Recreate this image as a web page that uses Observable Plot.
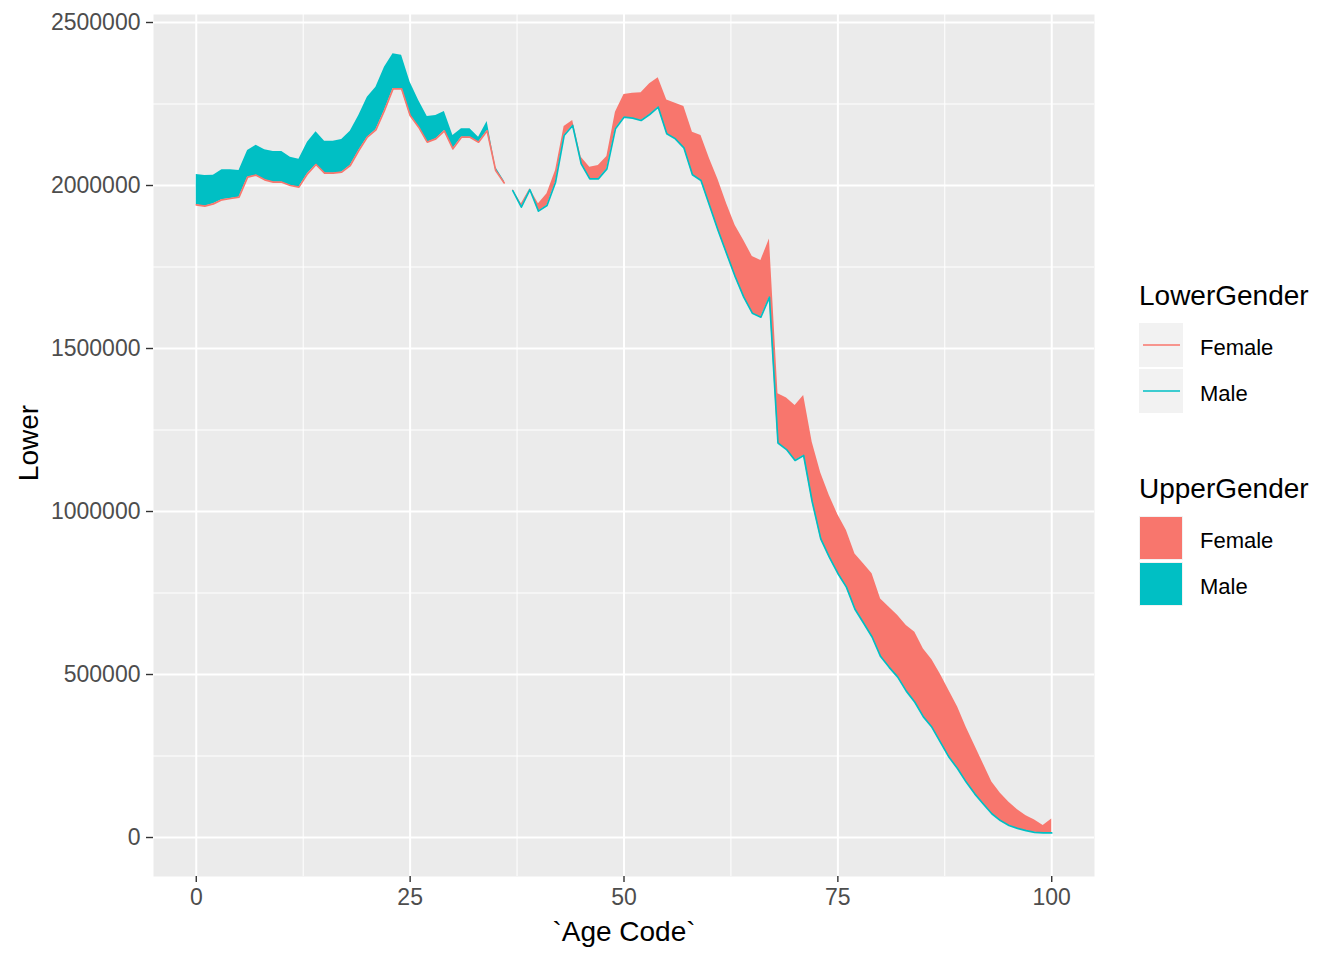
<!DOCTYPE html>
<html>
<head>
<meta charset="utf-8">
<script src="https://cdn.jsdelivr.net/npm/d3@7"></script>
<script src="https://cdn.jsdelivr.net/npm/@observablehq/plot@0.6"></script>
<style>
  body { margin: 0; background: #fff; }
  #wrap { position: relative; width: 1344px; height: 960px; background: #fff; font-family: "Liberation Sans", Arial, sans-serif; }
  #wrap svg { position: absolute; left: 0; top: 0; }
</style>
</head>
<body>
<div id="wrap"></div>
<script>
// Age codes 0..100
const ages = d3.range(0, 101);

// Female population by age
const female = [
  1940700, 1936600, 1943700, 1956000, 1960100, 1964200, 2025600, 2031700, 2017300, 2010200,
  2010200, 2000000, 1995000, 2035800, 2064400, 2037900, 2037900, 2041000, 2061400, 2107400,
  2148300, 2170800, 2230000, 2296500, 2296500, 2214700, 2178900, 2133000, 2143000, 2167800,
  2112400, 2148300, 2148300, 2133000, 2167800, 2046000, 2008000, 1988000, 1943800, 1990000,
  1943800, 1974500, 2046000, 2181000, 2199400, 2086900, 2056200, 2061400, 2089000, 2225000,
  2279200, 2283300, 2284300, 2311900, 2330300, 2262000, 2252500, 2242400, 2163600, 2153400,
  2081900, 2017500, 1943800, 1877300, 1831300, 1782200, 1769900, 1836000, 1361000, 1348000,
  1325200, 1355800, 1212600, 1118000, 1049000, 990000, 942000, 870000, 840000, 809000,
  732000, 706000, 681000, 650000, 630000, 578000, 545000, 500000, 450000, 400000,
  338000, 282000, 226000, 170000, 136000, 108000, 85000, 67000, 54000, 37000,
  57000
];

// Male population by age
const male = [
  2033750, 2030700, 2031700, 2048200, 2048200, 2046000, 2107400, 2123800, 2109400, 2104300,
  2104300, 2086900, 2080800, 2133000, 2164700, 2136000, 2136000, 2141000, 2166800, 2214700,
  2271000, 2301700, 2363000, 2404000, 2399900, 2317000, 2260700, 2211700, 2214700, 2227000,
  2153400, 2173900, 2173900, 2148300, 2196300, 2056000, 2014000, 1984000, 1933600, 1987000,
  1921400, 1938600, 2010200, 2153400, 2184100, 2066400, 2020500, 2020500, 2051100, 2173900,
  2209600, 2206500, 2199400, 2217800, 2240300, 2158600, 2143200, 2115600, 2032800, 2015300,
  1938600, 1862000, 1790500, 1720000, 1657400, 1608300, 1596000, 1657400, 1210000, 1190000,
  1156500, 1171800, 1030000, 916000, 860000, 810000, 768000, 700000, 658000, 615000,
  555000, 522000, 492000, 449000, 415000, 370000, 338000, 292000, 246000, 211000,
  170000, 134000, 103000, 73000, 52000, 37000, 28000, 21000, 16000, 14000,
  14000
];

const genders = ["Female", "Male"];
const genderColors = ["#F8766D", "#00BFC4"];
const yMajor = [0, 500000, 1000000, 1500000, 2000000, 2500000];
const yMinor = [250000, 750000, 1250000, 1750000, 2250000];
const xMajor = [0, 25, 50, 75, 100];
const xMinor = [12.5, 37.5, 62.5, 87.5];

const rows = ages.map((a, i) => {
  const f = female[i], m = male[i];
  const femaleUp = f >= m;
  return {
    age: a,
    lower: Math.min(f, m),
    upper: Math.max(f, m),
    upperGender: femaleUp ? "Female" : "Male",
    lowerGender: femaleUp ? "Male" : "Female"
  };
});

const font = "'Liberation Sans', Arial, sans-serif";

const chart = Plot.plot({
  width: 1344,
  height: 960,
  marginLeft: 153,
  marginRight: 250,
  marginTop: 14,
  marginBottom: 84,
  style: { fontFamily: font, background: "transparent" },
  x: { domain: [-5, 105], label: null },
  y: { domain: [-119600, 2524550], label: null },
  color: { domain: genders, range: genderColors },
  marks: [
    Plot.frame({ fill: "#EBEBEB", stroke: null }),
    Plot.ruleY(yMinor, { stroke: "#FFFFFF", strokeWidth: 1 }),
    Plot.ruleX(xMinor, { stroke: "#FFFFFF", strokeWidth: 1 }),
    Plot.ruleY(yMajor, { stroke: "#FFFFFF", strokeWidth: 2 }),
    Plot.ruleX(xMajor, { stroke: "#FFFFFF", strokeWidth: 2 }),
    Plot.areaY(rows, { x: "age", y1: "lower", y2: "upper", z: "upperGender", fill: "upperGender" }),
    Plot.line(rows, { x: "age", y: "lower", z: "lowerGender", stroke: "lowerGender", strokeWidth: 1.7 }),
    Plot.axisY({ ticks: yMajor, tickFormat: d => String(d), tickSize: 7, tickPadding: 6, fontSize: 23, fill: "#4D4D4D", stroke: "#333333", strokeWidth: 1.4, label: null }),
    Plot.axisX({ ticks: xMajor, tickFormat: d => String(d), tickSize: 6, tickPadding: 6, fontSize: 23, fill: "#4D4D4D", stroke: "#333333", strokeWidth: 1.4, label: null })
  ]
});

const wrap = document.getElementById("wrap");
wrap.appendChild(chart);

// Titles and legend overlay
const svg = d3.select(wrap).append("svg")
  .attr("width", 1344).attr("height", 960)
  .style("font-family", font);

svg.append("text")
  .attr("transform", "translate(38,443) rotate(-90)")
  .attr("text-anchor", "middle")
  .attr("font-size", 28)
  .attr("fill", "#000")
  .text("Lower");

svg.append("text")
  .attr("x", 624).attr("y", 941)
  .attr("text-anchor", "middle")
  .attr("font-size", 28)
  .attr("fill", "#000")
  .text("`Age Code`");

// LowerGender legend (line keys)
svg.append("text").attr("x", 1139).attr("y", 305).attr("font-size", 28).attr("fill", "#000").text("LowerGender");
genders.forEach((g, i) => {
  const top = 323 + i * 46;
  svg.append("rect").attr("x", 1139).attr("y", top).attr("width", 44).attr("height", 44).attr("fill", "#F2F2F2");
  svg.append("line").attr("x1", 1143).attr("x2", 1180).attr("y1", top + 22).attr("y2", top + 22)
    .attr("stroke", genderColors[i]).attr("stroke-width", 1.7);
  svg.append("text").attr("x", 1200).attr("y", top + 32).attr("font-size", 22).attr("fill", "#000").text(g);
});

// UpperGender legend (fill keys)
svg.append("text").attr("x", 1139).attr("y", 498).attr("font-size", 28).attr("fill", "#000").text("UpperGender");
genders.forEach((g, i) => {
  const top = 516 + i * 46;
  svg.append("rect").attr("x", 1139).attr("y", top).attr("width", 44).attr("height", 44).attr("fill", "#F2F2F2");
  svg.append("rect").attr("x", 1140).attr("y", top + 1).attr("width", 42).attr("height", 42).attr("fill", genderColors[i]);
  svg.append("text").attr("x", 1200).attr("y", top + 32).attr("font-size", 22).attr("fill", "#000").text(g);
});
</script>
</body>
</html>
